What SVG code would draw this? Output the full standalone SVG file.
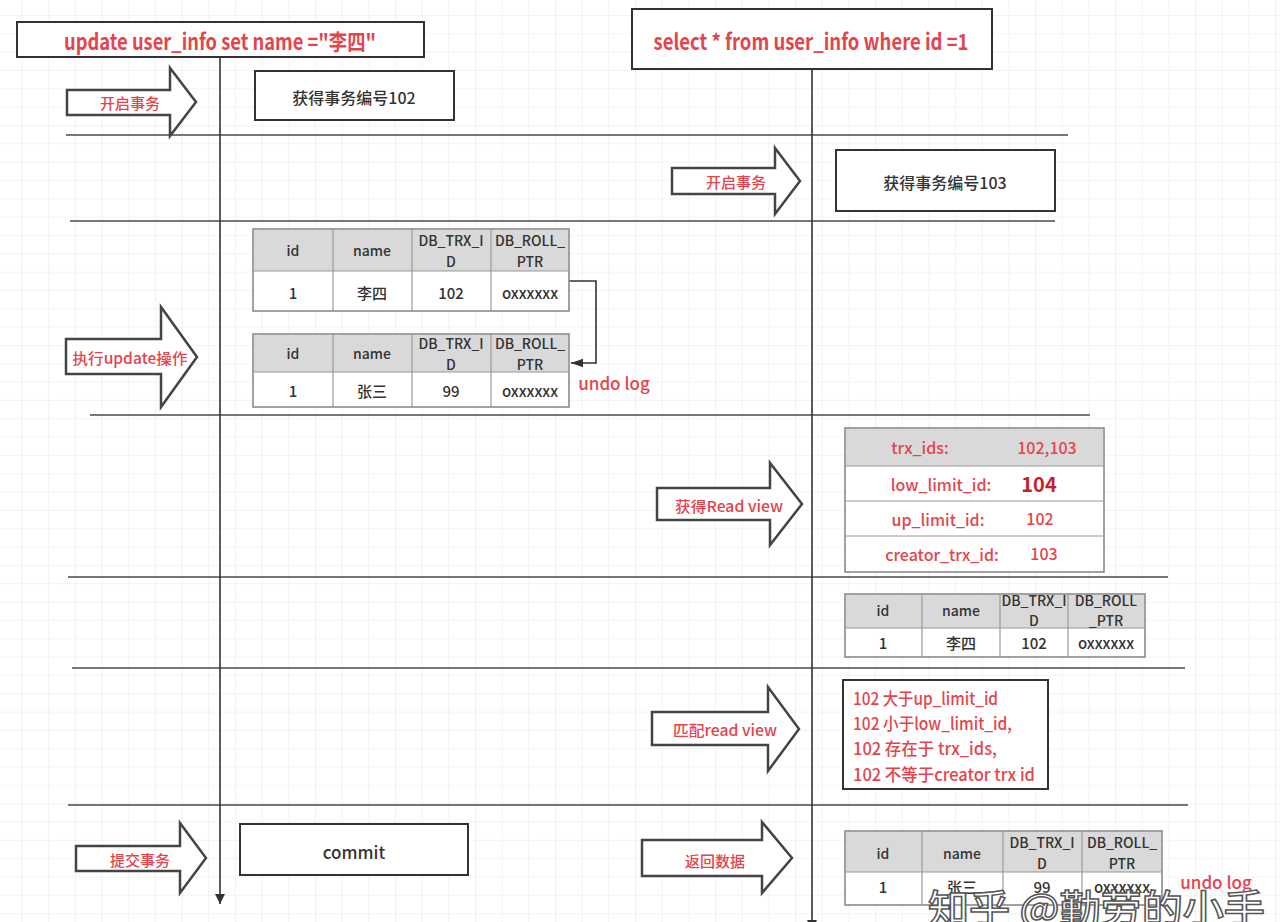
<svg xmlns="http://www.w3.org/2000/svg" width="1280" height="922" viewBox="0 0 1280 922">
<style>
text{font-family:"Noto Sans CJK SC","Noto Sans",sans-serif;dominant-baseline:central;text-anchor:middle;font-weight:500}
.st{text-anchor:start}
.red{fill:#e5444c}
.dk{fill:#333}
.b{font-weight:bold}
.box{fill:#fff;stroke:#333;stroke-width:2}
.barrow{fill:#fff;stroke:#444;stroke-width:2.5;stroke-linejoin:miter}
.sep{stroke:#777;stroke-width:2}
.life{stroke:#333;stroke-width:1.6;fill:none}
.tbl{fill:#fff;stroke:#8a8a8a;stroke-width:1.6}
.hdr{fill:#d9d9d9}
.cell{stroke:#9a9a9a;stroke-width:1.2}
.th{font-size:14px;fill:#333}
.td{font-size:15px;fill:#333}
.rv{font-size:16px;fill:#e5444c}
</style>
<defs>
<pattern id="grid" x="21.6" y="15" width="26.67" height="18.33" patternUnits="userSpaceOnUse">
<path d="M0,0H26.67M0,0V18.33" fill="none" stroke="#e9e9e9" stroke-width="1.2"/>
</pattern>
<marker id="ah" viewBox="0 0 10 10" refX="10" refY="5" markerWidth="10" markerHeight="10" markerUnits="userSpaceOnUse" orient="auto">
<path d="M0,0L10,5L0,10z" fill="#333"/>
</marker>
<marker id="ah2" viewBox="0 0 10 10" refX="10" refY="5" markerWidth="12" markerHeight="12" markerUnits="userSpaceOnUse" orient="auto">
<path d="M0,1.5L10,5L0,8.5z" fill="#333"/>
</marker>
</defs>
<rect width="1280" height="922" fill="#fff"/>
<rect width="1280" height="922" fill="url(#grid)"/>

<g id="separators">
<line class="sep" x1="66" y1="135" x2="1068" y2="135"/>
<line class="sep" x1="70" y1="221" x2="1055" y2="221"/>
<line class="sep" x1="90" y1="415" x2="1090" y2="415"/>
<line class="sep" x1="68" y1="577" x2="1168" y2="577"/>
<line class="sep" x1="72" y1="668" x2="1185" y2="668"/>
<line class="sep" x1="68" y1="805" x2="1188" y2="805"/>
</g>

<g id="connectors">
<line class="life" x1="220" y1="57" x2="220" y2="904" marker-end="url(#ah)"/>
<line class="life" x1="812" y1="69" x2="812" y2="930" marker-end="url(#ah)"/>
<path class="life" d="M569,281H596V363H571" stroke-width="2" marker-end="url(#ah2)"/>
</g>

<g id="title-update">
<rect class="box" x="17" y="22" width="407" height="35"/>
<text class="red b" x="220" y="40" font-size="22" textLength="312" lengthAdjust="spacingAndGlyphs">update user_info set name ="李四"</text>
</g>
<g id="title-select">
<rect class="box" x="632" y="9" width="360" height="60"/>
<text class="red b" x="811" y="40" font-size="22" textLength="315" lengthAdjust="spacingAndGlyphs">select * from user_info where id =1</text>
</g>

<g id="arrow-begin-1">
<polygon class="barrow" points="67,90 170,90 170,68 196,102 170,136 170,115 67,115"/>
<text class="red" x="130" y="102" font-size="15">开启事务</text>
</g>
<g id="trx-102">
<rect class="box" x="255" y="71" width="199" height="49"/>
<text class="dk" x="354" y="97" font-size="16">获得事务编号102</text>
</g>

<g id="arrow-begin-2">
<polygon class="barrow" points="672,168 775,168 775,148 800,181 775,214 775,194 672,194"/>
<text class="red" x="736" y="181" font-size="15">开启事务</text>
</g>
<g id="trx-103">
<rect class="box" x="836" y="150" width="219" height="61"/>
<text class="dk" x="945" y="182" font-size="16">获得事务编号103</text>
</g>

<g id="arrow-update">
<polygon class="barrow" points="66,339 161,339 161,307 197,357 161,407 161,374 66,374"/>
<text class="red" x="130" y="357" font-size="15" textLength="115" lengthAdjust="spacingAndGlyphs">执行update操作</text>
</g>

<g id="row-lisi">
<rect class="tbl" x="253" y="229" width="316" height="82"/>
<rect class="hdr" x="254" y="230" width="314" height="41"/>
<line class="cell" x1="253" y1="271" x2="569" y2="271"/>
<line class="cell" x1="333" y1="229" x2="333" y2="311"/>
<line class="cell" x1="412" y1="229" x2="412" y2="311"/>
<line class="cell" x1="491" y1="229" x2="491" y2="311"/>
<text class="th" x="293" y="250">id</text>
<text class="th" x="372" y="250">name</text>
<text class="th" x="451" y="240">DB_TRX_I</text>
<text class="th" x="451" y="261">D</text>
<text class="th" x="530" y="240">DB_ROLL_</text>
<text class="th" x="530" y="261">PTR</text>
<text class="td" x="293" y="292">1</text>
<text class="td" x="372" y="292">李四</text>
<text class="td" x="451" y="292">102</text>
<text class="td" x="530" y="292">oxxxxxx</text>
</g>

<g id="row-zhangsan">
<rect class="tbl" x="253" y="334" width="316" height="73"/>
<rect class="hdr" x="254" y="335" width="314" height="37"/>
<line class="cell" x1="253" y1="372" x2="569" y2="372"/>
<line class="cell" x1="333" y1="334" x2="333" y2="407"/>
<line class="cell" x1="412" y1="334" x2="412" y2="407"/>
<line class="cell" x1="491" y1="334" x2="491" y2="407"/>
<text class="th" x="293" y="353">id</text>
<text class="th" x="372" y="353">name</text>
<text class="th" x="451" y="343">DB_TRX_I</text>
<text class="th" x="451" y="364">D</text>
<text class="th" x="530" y="343">DB_ROLL_</text>
<text class="th" x="530" y="364">PTR</text>
<text class="td" x="293" y="390">1</text>
<text class="td" x="372" y="390">张三</text>
<text class="td" x="451" y="390">99</text>
<text class="td" x="530" y="390">oxxxxxx</text>
</g>
<g id="label-undo-1">
<text class="red" x="614" y="382" font-size="17">undo log</text>
</g>

<g id="arrow-readview">
<polygon class="barrow" points="657,488 770,488 770,463 802,504 770,545 770,520 657,520"/>
<text class="red" x="729" y="505" font-size="15" textLength="108" lengthAdjust="spacingAndGlyphs">获得Read view</text>
</g>
<g id="readview">
<rect class="tbl" x="845" y="428" width="259" height="144"/>
<rect class="hdr" x="846" y="429" width="257" height="37"/>
<line class="cell" x1="845" y1="466" x2="1104" y2="466"/>
<line class="cell" x1="845" y1="501" x2="1104" y2="501"/>
<line class="cell" x1="845" y1="536" x2="1104" y2="536"/>
<text class="rv" x="920" y="447">trx_ids:</text>
<text class="rv" x="1047" y="447">102,103</text>
<text class="rv" x="941" y="484">low_limit_id:</text>
<text class="b" x="1039" y="483" font-size="20" fill="#c81e2a">104</text>
<text class="rv" x="938" y="519">up_limit_id:</text>
<text class="rv" x="1040" y="518">102</text>
<text class="rv" x="942" y="554">creator_trx_id:</text>
<text class="rv" x="1044" y="553">103</text>
</g>

<g id="row-lisi-read">
<rect class="tbl" x="845" y="594" width="300" height="63"/>
<rect class="hdr" x="846" y="595" width="298" height="33"/>
<line class="cell" x1="845" y1="628" x2="1145" y2="628"/>
<line class="cell" x1="922" y1="594" x2="922" y2="657"/>
<line class="cell" x1="1000" y1="594" x2="1000" y2="657"/>
<line class="cell" x1="1068" y1="594" x2="1068" y2="657"/>
<text class="th" x="883" y="610">id</text>
<text class="th" x="961" y="610">name</text>
<text class="th" x="1034" y="600">DB_TRX_I</text>
<text class="th" x="1034" y="620">D</text>
<text class="th" x="1106" y="600">DB_ROLL</text>
<text class="th" x="1106" y="620">_PTR</text>
<text class="td" x="883" y="642">1</text>
<text class="td" x="961" y="642">李四</text>
<text class="td" x="1034" y="642">102</text>
<text class="td" x="1106" y="642">oxxxxxx</text>
</g>

<g id="arrow-match">
<polygon class="barrow" points="652,712 768,712 768,687 799,729 768,771 768,745 652,745"/>
<text class="red" x="725" y="729" font-size="15" textLength="104" lengthAdjust="spacingAndGlyphs">匹配read view</text>
</g>
<g id="match-conditions">
<rect class="box" x="843" y="680" width="205" height="109"/>
<text class="red st" x="853" y="697" font-size="17" textLength="145" lengthAdjust="spacingAndGlyphs">102 大于up_limit_id</text>
<text class="red st" x="853" y="722" font-size="17" textLength="159" lengthAdjust="spacingAndGlyphs">102 小于low_limit_id,</text>
<text class="red st" x="853" y="747" font-size="17" textLength="144" lengthAdjust="spacingAndGlyphs">102 存在于  trx_ids,</text>
<text class="red st" x="853" y="773" font-size="17" textLength="182" lengthAdjust="spacingAndGlyphs">102 不等于creator trx id</text>
</g>

<g id="arrow-commit">
<polygon class="barrow" points="76,846 180,846 180,823 206,858 180,893 180,871 76,871"/>
<text class="red" x="140" y="859" font-size="15">提交事务</text>
</g>
<g id="commit">
<rect class="box" x="240" y="824" width="228" height="51"/>
<text class="dk" x="354" y="851" font-size="17">commit</text>
</g>

<g id="arrow-return">
<polygon class="barrow" points="642,840 762,840 762,822 792,858 762,893 762,876 642,876"/>
<text class="red" x="715" y="860" font-size="15">返回数据</text>
</g>
<g id="row-zhangsan-return">
<rect class="tbl" x="845" y="831" width="317" height="74"/>
<rect class="hdr" x="846" y="832" width="315" height="40"/>
<line class="cell" x1="845" y1="872" x2="1162" y2="872"/>
<line class="cell" x1="922" y1="831" x2="922" y2="905"/>
<line class="cell" x1="1003" y1="831" x2="1003" y2="905"/>
<line class="cell" x1="1082" y1="831" x2="1082" y2="905"/>
<text class="th" x="883" y="853">id</text>
<text class="th" x="962" y="853">name</text>
<text class="th" x="1042" y="842">DB_TRX_I</text>
<text class="th" x="1042" y="863">D</text>
<text class="th" x="1122" y="842">DB_ROLL_</text>
<text class="th" x="1122" y="863">PTR</text>
<text class="td" x="883" y="886">1</text>
<text class="td" x="962" y="886">张三</text>
<text class="td" x="1042" y="886">99</text>
<text class="td" x="1122" y="886">oxxxxxx</text>
</g>
<g id="label-undo-2">
<text class="red" x="1216" y="881" font-size="17">undo log</text>
</g>

<g id="watermark">
<text class="st" x="928" y="905" font-size="38" fill="#fff" stroke="#555" stroke-width="1.5" textLength="337" lengthAdjust="spacingAndGlyphs">知乎 @勤劳的小手</text>
</g>
</svg>
